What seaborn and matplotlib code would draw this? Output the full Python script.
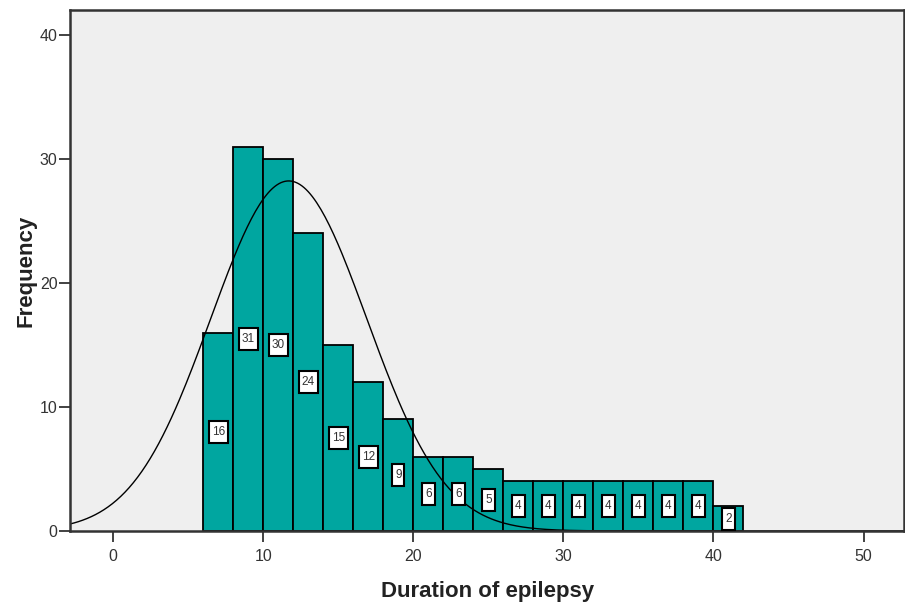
import numpy as np
import pandas as pd
import matplotlib
matplotlib.use('Agg')
import matplotlib.pyplot as plt
import seaborn as sns

# histogram data (bins of width 2, starting at 6)
bin_edges = [6, 8, 10, 12, 14, 16, 18, 20, 22, 24, 26, 28, 30, 32, 34, 36, 38, 40, 42]
counts = [16, 31, 30, 24, 15, 12, 9, 6, 6, 5, 4, 4, 4, 4, 4, 4, 4, 2]

# normal curve parameters (as drawn by SPSS)
curve_mean = 11.7
curve_sd = 5.2

x_ticks = [0, 10, 20, 30, 40, 50]
y_ticks = [0, 10, 20, 30, 40]

bar_color = '#00a6a0'
bg_color = '#efefef'

sns.set_style('white')
plt.rcParams['font.family'] = ['Liberation Sans', 'DejaVu Sans']

centers = [(a + b) / 2 for a, b in zip(bin_edges[:-1], bin_edges[1:])]
df = pd.DataFrame({'duration': centers, 'count': counts})

fig = plt.figure(figsize=(9.05, 6.04), dpi=100)
ax = fig.add_axes([0.0774, 0.121, 0.9216, 0.862])
ax.set_facecolor(bg_color)

sns.histplot(data=df, x='duration', weights='count', bins=bin_edges,
             color=bar_color, alpha=1, edgecolor='black', linewidth=1.3, ax=ax)

# frequency labels in white boxes at half bar height
for c, n in zip(centers, counts):
    ax.text(c, n / 2, str(n), ha='center', va='center', fontsize=8.5, color='#333333',
            bbox=dict(boxstyle='square,pad=0.25', mutation_aspect=1.7,
                      facecolor='white', edgecolor='black', linewidth=1.5))

# normal curve
n_total = sum(counts)
width = bin_edges[1] - bin_edges[0]
xs = np.linspace(-3, 53, 400)
ys = n_total * width / (curve_sd * np.sqrt(2 * np.pi)) * np.exp(-(xs - curve_mean) ** 2 / (2 * curve_sd ** 2))
sns.lineplot(x=xs, y=ys, color='black', linewidth=1, ax=ax)

ax.set_xlim(-2.87, 52.7)
ax.set_ylim(0, 42)
ax.set_xticks(x_ticks)
ax.set_yticks(y_ticks)
ax.tick_params(axis='both', direction='out', length=8, width=1.3, color='#333333',
               labelsize=11.5, labelcolor='#333333', bottom=True, left=True)
ax.tick_params(axis='x', pad=5)
ax.tick_params(axis='y', pad=1)

for sp in ax.spines.values():
    sp.set_visible(True)
    sp.set_color('#333333')
    sp.set_linewidth(1.8)

ax.set_xlabel('Duration of epilepsy', fontsize=16, fontweight='bold', color='#222222', labelpad=12)
ax.set_ylabel('Frequency', fontsize=16, fontweight='bold', color='#222222', labelpad=2)

fig.savefig('out.png', dpi=100)
